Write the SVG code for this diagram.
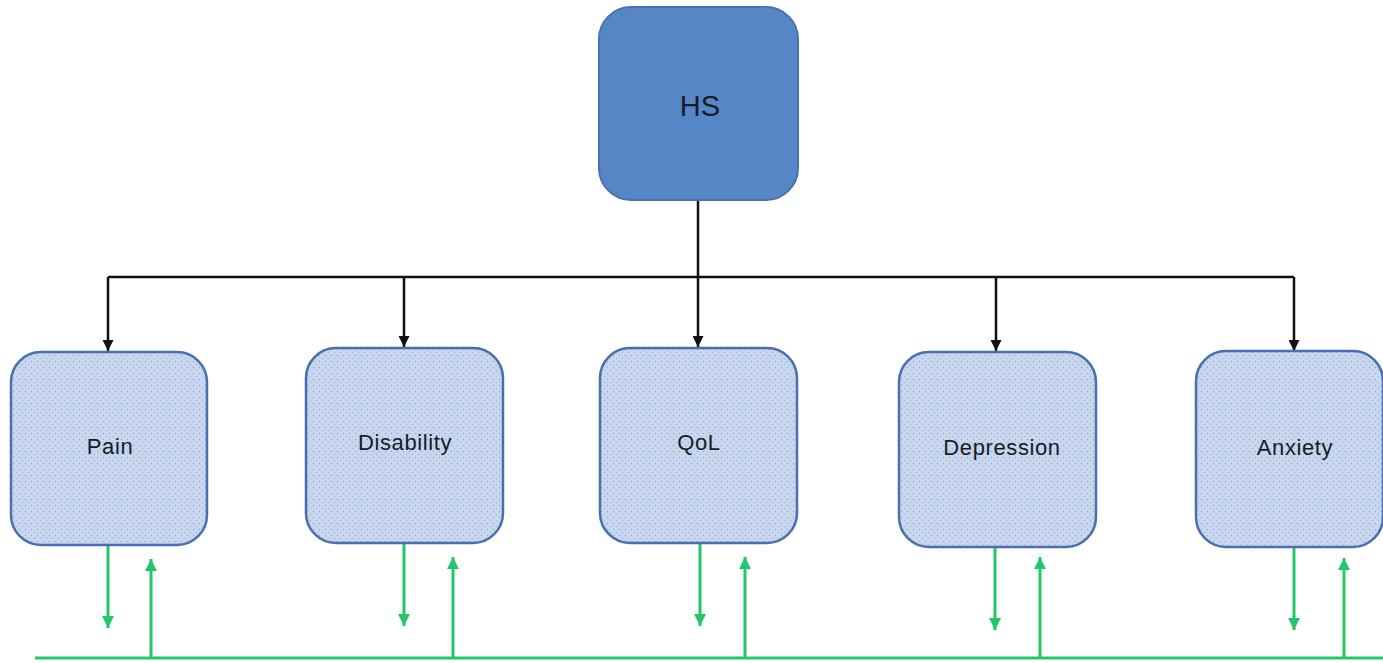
<svg xmlns="http://www.w3.org/2000/svg" width="1383" height="663" viewBox="0 0 1383 663">
<defs>
<pattern id="dots" width="6" height="6" patternUnits="userSpaceOnUse">
<rect width="6" height="6" fill="#c8d6ee"/>
<circle cx="1.5" cy="1.5" r="0.7" fill="#8ea6d6"/>
<circle cx="4.5" cy="4.5" r="0.7" fill="#9fb6de"/>
</pattern>
<marker id="blk" viewBox="0 0 10 10" refX="10" refY="5" markerWidth="11" markerHeight="11" orient="auto" markerUnits="userSpaceOnUse">
<path d="M0,0 L10,5 L0,10 z" fill="#111"/>
</marker>
<marker id="grn" viewBox="0 0 10 10" refX="10" refY="5" markerWidth="12" markerHeight="12" orient="auto" markerUnits="userSpaceOnUse">
<path d="M0,0 L10,5 L0,10 z" fill="#22c76a"/>
</marker>
</defs>
<style>
.top{fill:#5686c6;stroke:#4a72ae;stroke-width:2}
.box{fill:url(#dots);stroke:#4a6fae;stroke-width:2.5}
.lbl{font-family:"Liberation Sans",Arial,sans-serif;font-size:22px;letter-spacing:0.6px;fill:#161c26;text-anchor:middle;dominant-baseline:central}
.hs{font-size:29px;letter-spacing:0}
.blk{stroke:#111;stroke-width:2.5;fill:none}
.g{stroke:#22c76a;stroke-width:3;fill:none}
</style>
<g id="connectors">
<path class="blk" d="M698,200 V277"/>
<path class="blk" d="M108,277 H1294"/>
<path class="blk" d="M108,277 V351" marker-end="url(#blk)"/>
<path class="blk" d="M404,277 V347" marker-end="url(#blk)"/>
<path class="blk" d="M698,277 V347" marker-end="url(#blk)"/>
<path class="blk" d="M996,277 V351" marker-end="url(#blk)"/>
<path class="blk" d="M1294,277 V351" marker-end="url(#blk)"/>
<path class="g" d="M35,658 H1383"/>
<path class="g" d="M108,545 V628" marker-end="url(#grn)"/>
<path class="g" d="M151,658 V559" marker-end="url(#grn)"/>
<path class="g" d="M404,543 V626" marker-end="url(#grn)"/>
<path class="g" d="M453,658 V557" marker-end="url(#grn)"/>
<path class="g" d="M700,543 V626" marker-end="url(#grn)"/>
<path class="g" d="M745,658 V557" marker-end="url(#grn)"/>
<path class="g" d="M995,547 V630" marker-end="url(#grn)"/>
<path class="g" d="M1040,658 V557" marker-end="url(#grn)"/>
<path class="g" d="M1294,547 V630" marker-end="url(#grn)"/>
<path class="g" d="M1344,658 V558" marker-end="url(#grn)"/>
</g>
<g id="hs">
<rect class="top" x="599" y="7" width="199" height="193" rx="32"/>
<text class="lbl hs" x="700" y="106">HS</text>
</g>
<g id="pain">
<rect class="box" x="11" y="352" width="196" height="193" rx="30"/>
<text class="lbl" x="110" y="446">Pain</text>
</g>
<g id="disability">
<rect class="box" x="306" y="348" width="197" height="195" rx="30"/>
<text class="lbl" x="405" y="442">Disability</text>
</g>
<g id="qol">
<rect class="box" x="600" y="348" width="197" height="195" rx="30"/>
<text class="lbl" x="699" y="442">QoL</text>
</g>
<g id="depression">
<rect class="box" x="899" y="352" width="197" height="195" rx="30"/>
<text class="lbl" x="1002" y="447">Depression</text>
</g>
<g id="anxiety">
<rect class="box" x="1196" y="351" width="187" height="196" rx="30"/>
<text class="lbl" x="1295" y="447">Anxiety</text>
</g>
</svg>
